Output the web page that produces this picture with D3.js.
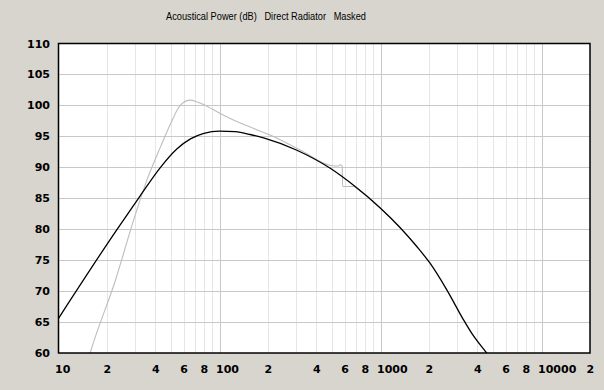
<!DOCTYPE html>
<html>
<head>
<meta charset="utf-8">
<script src="https://d3js.org/d3.v7.min.js"></script>
<style>
  html, body { margin: 0; padding: 0; background: #d8d5ce; }
  svg { display: block; }
</style>
</head>
<body>
<div id="chart"></div>
<script>
  // frequency (Hz) / level (dB)
  var maskedFreq = [10, 23, 32, 43, 54.5, 66, 80, 100, 125, 155, 190, 300, 490, 680, 1000, 1330, 1680, 2030, 2580, 3270, 3680, 4560, 5000];
  var maskedDb   = [65.6, 79.9, 85.3, 90, 93, 94.6, 95.5, 95.85, 95.75, 95.3, 94.7, 92.8, 89.8, 87.1, 83.4, 80.2, 77.2, 74.5, 70.2, 65.4, 63.2, 60, 58.6];

  var rawFreq = [15, 15.8, 22.6, 29.3, 35.5, 43, 50, 57, 66, 72, 80, 101, 128, 155, 206, 317, 490, 548, 561, 578, 582, 679, 766, 1000, 1330];
  var rawDb   = [58.2, 60.2, 71.8, 81.5, 88, 93.3, 97.2, 100, 100.85, 100.6, 100.1, 98.7, 97.4, 96.5, 95.2, 92.8, 90.3, 90.2, 90.4, 90.2, 86.9, 86.9, 86.0, 83.4, 80.2];

  var yTicks = [60, 65, 70, 75, 80, 85, 90, 95, 100, 105, 110];
  var xTicks = [10, 20, 40, 60, 80, 100, 200, 400, 600, 800, 1000, 2000, 4000, 6000, 8000, 10000, 20000];
  var xTickLabels = ["10", "2", "4", "6", "8", "100", "2", "4", "6", "8", "1000", "2", "4", "6", "8", "10000", "2"];

  function draw() {
    var W = 604, H = 390;
    var pl = 58.5, pr = 590, pt = 43.5, pb = 353;

    var svg = d3.select("#chart").append("svg")
      .attr("width", W)
      .attr("height", H);

    var x = d3.scaleLog().domain([10, 20000]).range([pl, pr]);
    var y = d3.scaleLinear().domain([60, 110]).range([pb, pt]);

    // title
    svg.append("text")
      .attr("x", 266)
      .attr("y", 20)
      .attr("text-anchor", "middle")
      .style("white-space", "pre")
      .style("font-family", "'Liberation Sans', Arial, sans-serif")
      .style("font-size", "11px")
      .attr("textLength", 200)
      .attr("lengthAdjust", "spacingAndGlyphs")
      .attr("fill", "#000")
      .text("Acoustical Power (dB)   Direct Radiator   Masked");

    // plot background
    svg.append("rect")
      .attr("x", pl).attr("y", pt)
      .attr("width", pr - pl).attr("height", pb - pt)
      .attr("fill", "#fff");

    // minor vertical grid
    var minor = [];
    for (var dec = 10; dec < 20000; dec *= 10) {
      for (var m = 2; m <= 9; m++) {
        if (dec * m < 20000) minor.push(dec * m);
      }
    }
    svg.selectAll(".vminor")
      .data(minor)
      .enter().append("line")
      .attr("x1", function (d) { return Math.round(x(d)) + 0.5; })
      .attr("x2", function (d) { return Math.round(x(d)) + 0.5; })
      .attr("y1", pt).attr("y2", pb)
      .attr("stroke", "#e6e6e6")
      .attr("stroke-width", 1);

    // decade lines
    svg.selectAll(".vmajor")
      .data([100, 1000, 10000])
      .enter().append("line")
      .attr("x1", function (d) { return Math.round(x(d)) + 0.5; })
      .attr("x2", function (d) { return Math.round(x(d)) + 0.5; })
      .attr("y1", pt).attr("y2", pb)
      .attr("stroke", "#c8c8c8")
      .attr("stroke-width", 1);

    // horizontal grid
    svg.selectAll(".hgrid")
      .data(yTicks.slice(1, -1))
      .enter().append("line")
      .attr("x1", pl).attr("x2", pr)
      .attr("y1", function (d) { return Math.round(y(d)) + 0.5; })
      .attr("y2", function (d) { return Math.round(y(d)) + 0.5; })
      .attr("stroke", "#c8c8c8")
      .attr("stroke-width", 1);

    // clip for curves
    svg.append("defs").append("clipPath")
      .attr("id", "clip")
      .append("rect")
      .attr("x", pl).attr("y", pt)
      .attr("width", pr - pl).attr("height", pb - pt);

    var line = d3.line()
      .x(function (d) { return x(d[0]); })
      .y(function (d) { return y(d[1]); })
      .curve(d3.curveMonotoneX);

    var rawData = rawFreq.map(function (f, i) { return [f, rawDb[i]]; });
    var maskedData = maskedFreq.map(function (f, i) { return [f, maskedDb[i]]; });

    var g = svg.append("g").attr("clip-path", "url(#clip)");
    g.append("path")
      .attr("d", line(rawData))
      .attr("fill", "none")
      .attr("stroke", "#bdbdbd")
      .attr("stroke-width", 1.1);
    g.append("path")
      .attr("d", line(maskedData))
      .attr("fill", "none")
      .attr("stroke", "#000")
      .attr("stroke-width", 1.3);

    // plot frame
    svg.append("rect")
      .attr("x", pl).attr("y", pt)
      .attr("width", pr - pl).attr("height", pb - pt)
      .attr("fill", "none")
      .attr("stroke", "#000")
      .attr("stroke-width", 1.5);

    // y labels
    svg.selectAll(".ylab")
      .data(yTicks)
      .enter().append("text")
      .attr("x", 50)
      .attr("y", function (d) { return y(d) + 4; })
      .attr("text-anchor", "end")
      .style("font-family", "'DejaVu Sans', sans-serif")
      .style("font-weight", "bold")
      .style("font-size", "11px")
      .text(function (d) { return d; });

    // x labels
    svg.selectAll(".xlab")
      .data(xTicks)
      .enter().append("text")
      .attr("x", function (d) { return x(d) - 3.5; })
      .attr("y", 373)
      .attr("text-anchor", "start")
      .style("font-family", "'DejaVu Sans', sans-serif")
      .style("font-weight", "bold")
      .style("font-size", "11px")
      .text(function (d, i) { return xTickLabels[i]; });
  }

  draw();
</script>
</body>
</html>
